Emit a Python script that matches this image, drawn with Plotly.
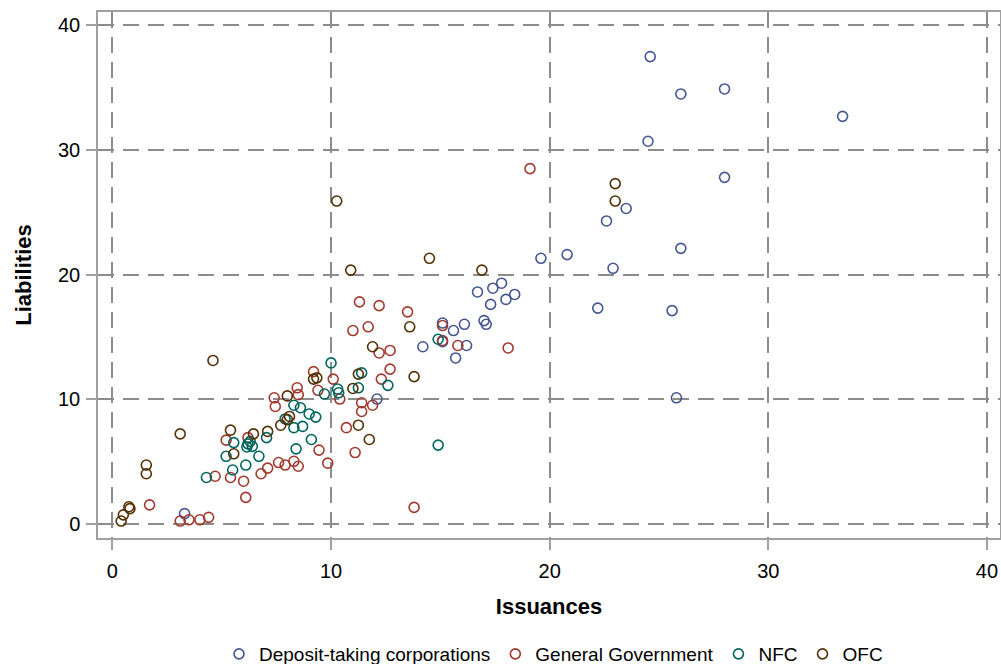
import plotly.graph_objects as go

# Deposit-taking corporations
dtc_x = [3.3, 12.1, 14.2, 15.1, 15.1, 15.6, 16.1, 16.2, 15.7, 16.7, 17.4, 17.8, 17.3, 18.0, 18.4, 17.0, 17.1,
         19.6, 20.8, 22.6, 23.5, 22.9, 22.2, 26.0, 25.6, 25.8, 28.0, 24.5, 24.6, 26.0, 28.0, 33.4]
dtc_y = [0.8, 10.0, 14.2, 16.1, 14.6, 15.5, 16.0, 14.3, 13.3, 18.6, 18.9, 19.3, 17.6, 18.0, 18.4, 16.3, 16.0,
         21.3, 21.6, 24.3, 25.3, 20.5, 17.3, 22.1, 17.1, 10.1, 27.8, 30.7, 37.5, 34.5, 34.9, 32.7]

# General Government
gg_x = [1.7, 3.1, 3.5, 4.0, 4.4, 4.7, 5.4, 6.0, 6.1, 5.2, 6.2, 6.8, 7.1, 7.6, 7.9, 8.3, 8.5, 7.4, 7.45, 8.45,
        8.5, 9.2, 9.4, 10.1, 10.4, 11.4, 11.4, 11.9, 10.7, 9.45, 11.1, 9.85, 13.8, 11.0, 11.7, 11.3, 12.2,
        13.5, 12.2, 12.7, 12.7, 12.3, 15.1, 15.1, 15.8, 18.1, 19.1]
gg_y = [1.5, 0.2, 0.3, 0.3, 0.5, 3.8, 3.7, 3.4, 2.1, 6.7, 6.9, 4.0, 4.45, 4.9, 4.7, 5.0, 4.6, 10.1, 9.4, 10.9,
        10.35, 12.2, 10.7, 11.6, 10.0, 9.7, 9.0, 9.5, 7.7, 5.9, 5.7, 4.85, 1.3, 15.5, 15.8, 17.8, 17.5,
        17.0, 13.7, 13.9, 12.4, 11.6, 15.9, 14.7, 14.3, 14.1, 28.5]

# NFC
nfc_x = [4.3, 5.2, 5.5, 5.55, 6.1, 6.7, 6.15, 6.2, 6.3, 6.4, 7.05, 7.9, 8.3, 8.6, 9.0, 9.3, 8.3, 8.7, 9.1, 8.4,
         9.7, 10.0, 10.3, 10.35, 11.25, 11.4, 12.6, 14.9, 14.9]
nfc_y = [3.7, 5.4, 4.3, 6.5, 4.7, 5.4, 6.15, 6.4, 6.6, 6.2, 6.9, 8.4, 9.5, 9.3, 8.8, 8.55, 7.7, 7.8, 6.75, 6.0,
         10.4, 12.9, 10.8, 10.5, 10.9, 12.1, 11.1, 14.8, 6.3]

# OFC
ofc_x = [0.4, 0.5, 0.75, 0.8, 1.55, 1.55, 3.1, 4.6, 5.4, 5.55, 6.45, 7.1, 7.7, 8.0, 8.1, 8.0, 9.2, 9.35, 11.0,
         11.25, 11.25, 11.75, 11.9, 13.6, 13.8, 10.26, 10.9, 14.5, 16.9, 23.0, 23.0]
ofc_y = [0.2, 0.7, 1.35, 1.2, 4.7, 4.0, 7.2, 13.1, 7.5, 5.6, 7.2, 7.4, 7.9, 8.35, 8.6, 10.25, 11.6, 11.7, 10.85,
         12.0, 7.9, 6.75, 14.2, 15.8, 11.8, 25.9, 20.35, 21.3, 20.35, 27.3, 25.9]

series_names = ["Deposit-taking corporations", "General Government", "NFC", "OFC"]
series_colors = ["#445694", "#A23A2E", "#01665E", "#543005"]
series_x = [dtc_x, gg_x, nfc_x, ofc_x]
series_y = [dtc_y, gg_y, nfc_y, ofc_y]

x_ticks = [0, 10, 20, 30, 40]
y_ticks = [0, 10, 20, 30, 40]

FONT = "Arial, Liberation Sans, sans-serif"

fig = go.Figure()
for name, color, xs, ys in zip(series_names, series_colors, series_x, series_y):
    fig.add_trace(go.Scatter(
        x=xs, y=ys, mode="markers", name=name,
        marker=dict(symbol="circle-open", size=10, color=color, line=dict(width=1.6, color=color)),
    ))

axis_common = dict(
    showline=True, mirror=True, linecolor="#A0A0A0", linewidth=1.5,
    showgrid=True, gridcolor="#8C8C8C", gridwidth=1.5, griddash="16px,9px",
    zeroline=False, ticks="outside", ticklen=10, tickcolor="#A0A0A0", tickwidth=1.5,
    tickfont=dict(family=FONT, size=20, color="#000000"),
    automargin=False,
)

fig.update_xaxes(
    range=[-0.66, 40.6], tickvals=x_ticks, ticklabelstandoff=4,
    title=dict(text="<b>Issuances</b>", font=dict(family=FONT, size=22, color="#000"), standoff=18),
    **axis_common,
)
fig.update_yaxes(
    range=[-1.16, 41.08], tickvals=y_ticks, ticklabelstandoff=2,
    title=dict(text="<b>Liabilities</b>", font=dict(family=FONT, size=22, color="#000"), standoff=20),
    **axis_common,
)

fig.update_layout(
    width=1001, height=664,
    margin=dict(l=98, r=1, t=12, b=126),
    plot_bgcolor="white", paper_bgcolor="white",
    font=dict(family=FONT, size=19, color="#000"),
    legend=dict(orientation="h", x=0.505, xanchor="center", yref="container", y=1 - 654 / 664, yanchor="middle",
                font=dict(family=FONT, size=19), itemwidth=30, tracegroupgap=0),
    showlegend=True,
)

fig.write_html("out.html")
